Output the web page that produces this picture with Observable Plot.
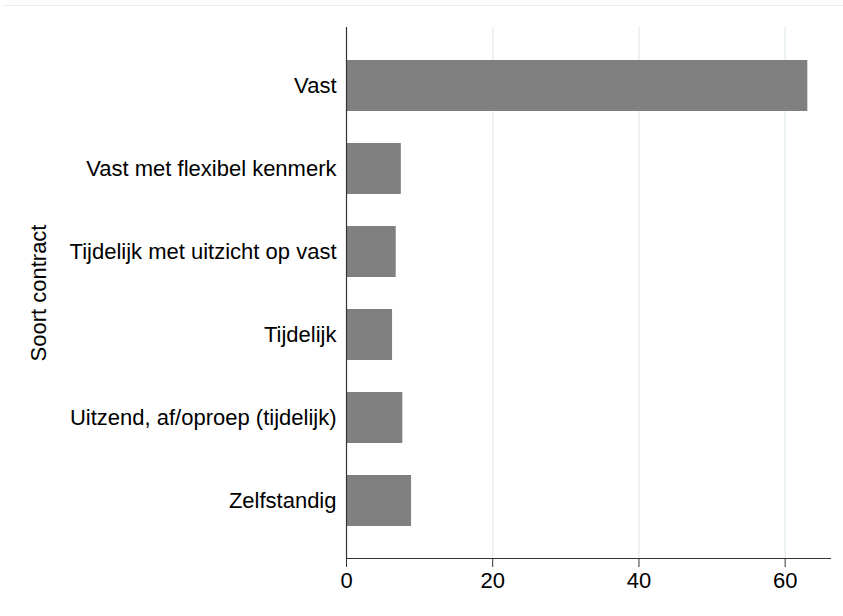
<!DOCTYPE html>
<html>
<head>
<meta charset="utf-8">
<script src="https://cdn.jsdelivr.net/npm/d3@7"></script>
<script src="https://cdn.jsdelivr.net/npm/@observablehq/plot@0.6"></script>
<style>
  html, body { margin: 0; padding: 0; background: #fff; }
  #wrap { width: 843px; padding-top: 5px; }
  #line { margin-left: 2px; border-top: 1px solid #eeeeee; }
  svg { display: block; }
</style>
</head>
<body>
<div id="wrap"><div id="line"></div><div id="chart"></div></div>
<script>
const categories = ["Vast", "Vast met flexibel kenmerk", "Tijdelijk met uitzicht op vast", "Tijdelijk", "Uitzend, af/oproep (tijdelijk)", "Zelfstandig"];
const values = [63.1, 7.5, 6.8, 6.3, 7.7, 8.9];
const xTicks = [0, 20, 40, 60];
const gridTicks = [20, 40, 60];
const yTitle = "Soort contract";

const data = categories.map((c, i) => ({category: c, value: values[i]}));

const chart = Plot.plot({
  width: 843,
  height: 610,
  marginTop: 21,
  marginBottom: 58,
  marginLeft: 346,
  marginRight: 13,
  style: {fontFamily: "Liberation Sans, Arial, sans-serif", fontSize: "22px", color: "#000", background: "#fff"},
  x: {domain: [0, 66.2]},
  y: {domain: categories, paddingInner: 0.39, paddingOuter: 0.37},
  marks: [
    Plot.gridX(gridTicks, {stroke: "#e6eef1", strokeOpacity: 1, strokeWidth: 1.5}),
    Plot.barX(data, {x: "value", y: "category", fill: "#808080"}),
    Plot.ruleX([0], {stroke: "#333", strokeWidth: 1.2}),
    Plot.frame({anchor: "bottom", stroke: "#333", strokeWidth: 1.2}),
    Plot.axisX(xTicks, {tickSize: 9, tickPadding: 5, stroke: "#333", fill: "#000", fontSize: 22, label: null}),
    Plot.axisY({tickSize: 0, tickPadding: 10, fill: "#000", fontSize: 22, label: null}),
    Plot.text([yTitle], {frameAnchor: "left", textAnchor: "middle", rotate: -90, dx: -308, fontSize: 22, fill: "#000"})
  ]
});
document.getElementById("chart").appendChild(chart);
</script>
</body>
</html>
